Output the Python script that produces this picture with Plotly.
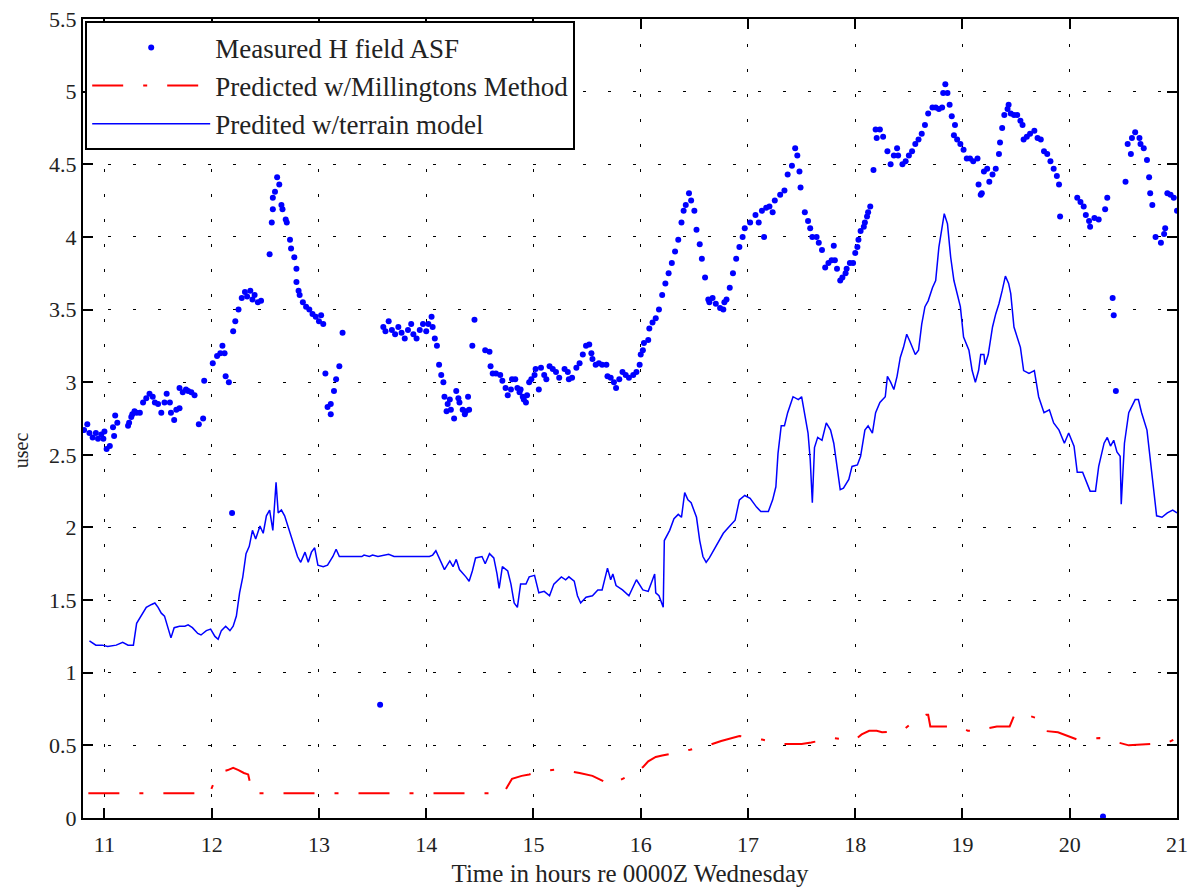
import plotly.graph_objects as go

# ---------------- data ----------------
meas_x = [10.81, 10.84, 10.86, 10.89, 10.92, 10.94, 10.97, 10.99, 11.0, 11.02, 11.05, 11.08, 11.09, 11.1, 11.12,
          11.22, 11.23, 11.25, 11.26, 11.28, 11.3, 11.33, 11.36, 11.39, 11.42, 11.45, 11.47, 11.5, 11.53, 11.56,
          11.58, 11.61, 11.62, 11.65, 11.67, 11.7, 11.7, 11.73, 11.76, 11.78, 11.81, 11.84, 11.88, 11.92, 11.93,
          12.01, 12.05, 12.08, 12.1, 12.12, 12.13, 12.16, 12.19, 12.2, 12.22, 12.25, 12.28, 12.31, 12.33, 12.36,
          12.38, 12.4, 12.43, 12.46, 12.54, 12.56, 12.57, 12.57, 12.59, 12.61, 12.63, 12.65, 12.66, 12.69, 12.7,
          12.73, 12.74, 12.77, 12.79, 12.79, 12.81, 12.82, 12.85, 12.88, 12.91, 12.94, 12.97, 13.0, 13.02, 13.04,
          13.06, 13.08, 13.11, 13.11, 13.14, 13.16, 13.19, 13.22, 13.57, 13.6, 13.62, 13.65, 13.68, 13.71, 13.74,
          13.77, 13.8, 13.83, 13.86, 13.88, 13.91, 13.94, 13.97, 14.0, 14.02, 14.05, 14.06, 14.08, 14.1, 14.12,
          14.14, 14.16, 14.17, 14.19, 14.2, 14.22, 14.23, 14.26, 14.28, 14.3, 14.31, 14.34, 14.36, 14.37, 14.39,
          14.4, 14.43, 14.45, 14.55, 14.59, 14.6, 14.62, 14.65, 14.69, 14.71, 14.74, 14.76, 14.79, 14.8, 14.83,
          14.85, 14.87, 14.88, 14.9, 14.91, 14.93, 14.94, 14.96, 14.98, 15.01, 15.02, 15.05, 15.07, 15.1, 15.12,
          15.15, 15.18, 15.21, 15.24, 15.29, 15.32, 15.33, 15.36, 15.4, 15.43, 15.46, 15.49, 15.52, 15.54, 15.55,
          15.58, 15.61, 15.64, 15.68, 15.69, 15.72, 15.75, 15.77, 15.8, 15.83, 15.86, 15.89, 15.93, 15.96, 15.99,
          16.0, 16.02, 16.03, 16.07, 16.08, 16.11, 16.14, 16.17, 16.2, 16.23, 16.26, 16.29, 16.32, 16.35, 16.38,
          16.4, 16.42, 16.45, 16.47, 16.5, 16.52, 16.55, 16.57, 16.6, 16.63, 16.64, 16.67, 16.7, 16.74, 16.77,
          16.78, 16.8, 16.83, 16.86, 16.89, 16.92, 16.95, 16.97, 17.02, 17.07, 17.1, 17.13, 17.15, 17.17, 17.2,
          17.23, 17.25, 17.3, 17.34, 17.37, 17.41, 17.44, 17.46, 17.48, 17.49, 17.53, 17.56, 17.58, 17.6, 17.64,
          17.66, 17.69, 17.72, 17.75, 17.78, 17.8, 17.81, 17.83, 17.86, 17.88, 17.91, 17.92, 17.95, 17.98, 18.0,
          18.02, 18.03, 18.05, 18.08, 18.09, 18.11, 18.12, 18.14, 18.17, 18.19, 18.2, 18.23, 18.26, 18.3, 18.33,
          18.36, 18.39, 18.4, 18.44, 18.47, 18.5, 18.53, 18.56, 18.59, 18.62, 18.65, 18.68, 18.72, 18.75, 18.78,
          18.81, 18.82, 18.84, 18.86, 18.88, 18.9, 18.92, 18.93, 18.95, 18.98, 19.01, 19.04, 19.07, 19.1, 19.14,
          19.15, 19.17, 19.18, 19.2, 19.23, 19.25, 19.28, 19.31, 19.34, 19.35, 19.37, 19.39, 19.42, 19.43, 19.45,
          19.48, 19.51, 19.54, 19.56, 19.57, 19.6, 19.63, 19.67, 19.7, 19.73, 19.76, 19.79, 19.82, 19.85, 19.88,
          19.9, 19.91, 20.07, 20.1, 20.13, 20.15, 20.18, 20.19, 20.23, 20.27, 20.31, 20.33, 20.35, 20.4, 20.41,
          20.43, 20.52, 20.54, 20.57, 20.58, 20.61, 20.65, 20.66, 20.69, 20.72, 20.74, 20.75, 20.77, 20.8, 20.85,
          20.88, 20.89, 20.91, 20.94, 20.97, 21.0]
meas_y = [2.67, 2.71, 2.65, 2.62, 2.65, 2.61, 2.64, 2.61, 2.66, 2.54, 2.56, 2.69, 2.63, 2.77, 2.72,
          2.70, 2.72, 2.76, 2.78, 2.80, 2.79, 2.79, 2.86, 2.89, 2.92, 2.90, 2.86, 2.85, 2.79, 2.86,
          2.92, 2.86, 2.79, 2.74, 2.81, 2.82, 2.96, 2.93, 2.95, 2.94, 2.93, 2.91, 2.71, 2.75, 3.01,
          3.13, 3.18, 3.20, 3.25, 3.20, 3.04, 3.00, 2.10, 3.35, 3.42, 3.50, 3.58, 3.62, 3.59, 3.63,
          3.57, 3.60, 3.55, 3.56, 3.88, 4.10, 4.19, 4.27, 4.31, 4.41, 4.36, 4.22, 4.19, 4.12, 4.10,
          3.98, 3.92, 3.86, 3.78, 3.69, 3.63, 3.60, 3.55, 3.52, 3.50, 3.47, 3.45, 3.42, 3.46, 3.40,
          3.06, 2.83, 2.85, 2.78, 2.94, 3.02, 3.11, 3.34, 0.78, 3.38, 3.35, 3.42, 3.36, 3.33, 3.38,
          3.34, 3.30, 3.36, 3.40, 3.33, 3.30, 3.36, 3.40, 3.35, 3.40, 3.45, 3.38, 3.30, 3.25, 3.12,
          3.05, 3.00, 2.90, 2.80, 2.85, 2.88, 2.81, 2.75, 2.94, 2.89, 2.86, 2.81, 2.78, 2.80, 2.90,
          2.81, 3.25, 3.43, 3.22, 3.21, 3.11, 3.06, 3.06, 3.05, 3.01, 2.96, 2.91, 2.95, 3.02, 3.02,
          2.96, 2.93, 2.95, 2.90, 2.88, 2.86, 2.91, 3.00, 3.02, 3.05, 3.09, 2.95, 3.10, 3.05, 3.02,
          3.11, 3.09, 3.07, 3.03, 3.09, 3.07, 3.02, 3.03, 3.10, 3.13, 3.19, 3.25, 3.26, 3.20, 3.16,
          3.12, 3.13, 3.12, 3.12, 3.04, 3.03, 3.00, 2.96, 3.02, 3.07, 3.05, 3.03, 3.05, 3.07, 3.12,
          3.19, 3.22, 3.27, 3.29, 3.37, 3.41, 3.44, 3.50, 3.60, 3.68, 3.75, 3.82, 3.90, 3.98, 4.10,
          4.18, 4.22, 4.30, 4.25, 4.18, 4.05, 3.95, 3.85, 3.72, 3.57, 3.55, 3.58, 3.54, 3.51, 3.50,
          3.55, 3.57, 3.65, 3.75, 3.85, 3.93, 4.00, 4.06, 4.10, 4.15, 4.10, 4.18, 4.00, 4.20, 4.21,
          4.17, 4.25, 4.29, 4.32, 4.43, 4.49, 4.61, 4.56, 4.45, 4.34, 4.17, 4.11, 4.06, 4.00, 4.00,
          3.96, 3.91, 3.79, 3.82, 3.84, 3.94, 3.84, 3.78, 3.70, 3.72, 3.75, 3.78, 3.82, 3.82, 3.89,
          3.93, 3.98, 4.04, 4.07, 4.10, 4.14, 4.17, 4.21, 4.46, 4.74, 4.68, 4.74, 4.69, 4.59, 4.50,
          4.56, 4.61, 4.56, 4.50, 4.52, 4.56, 4.59, 4.64, 4.67, 4.71, 4.77, 4.85, 4.89, 4.89, 4.88,
          4.89, 4.99, 5.05, 4.99, 4.91, 4.83, 4.70, 4.77, 4.67, 4.64, 4.60, 4.54, 4.54, 4.52, 4.54,
          4.36, 4.29, 4.30, 4.45, 4.47, 4.38, 4.43, 4.47, 4.57, 4.65, 4.75, 4.84, 4.88, 4.91, 4.85,
          4.84, 4.84, 4.80, 4.77, 4.67, 4.69, 4.71, 4.73, 4.68, 4.67, 4.59, 4.57, 4.52, 4.47, 4.42,
          4.36, 4.14, 4.27, 4.24, 4.21, 4.15, 4.11, 4.07, 4.13, 4.12, 0.01, 4.19, 4.27, 3.58, 3.46,
          2.94, 4.38, 4.64, 4.57, 4.68, 4.72, 4.68, 4.64, 4.61, 4.53, 4.41, 4.30, 4.22, 4.00, 3.96,
          4.02, 4.06, 4.30, 4.29, 4.27, 4.18]

mill_x = [10.85, 11.0, 11.5, 11.98, 12.03, 12.1, 12.15, 12.2, 12.25, 12.3, 12.34, 12.35, 12.36, 12.38,
          13.0, 14.0, 14.72, 14.76, 14.8, 14.89, 14.96, 15.05, 15.23, 15.43, 15.55, 15.66, 15.69, 15.75,
          15.86, 15.95, 16.02, 16.07, 16.14, 16.2, 16.27, 16.46, 16.63, 16.75, 16.92, 16.96, 17.13, 17.3,
          17.5, 17.59, 17.79, 17.99, 18.06, 18.13, 18.2, 18.25, 18.44, 18.55, 18.66, 18.68, 18.7, 18.76,
          18.97, 19.05, 19.17, 19.22, 19.32, 19.44, 19.49, 19.6, 19.68, 19.73, 19.76, 19.89, 20.07, 20.28,
          20.38, 20.45, 20.55, 20.76, 20.89, 21.0]
mill_y = [0.17, 0.17, 0.17, 0.17, 0.26, 0.32, 0.33, 0.345, 0.33, 0.31, 0.30, 0.27, 0.22, 0.17,
          0.17, 0.17, 0.17, 0.22, 0.27, 0.29, 0.30, 0.32, 0.335, 0.31, 0.29, 0.25, 0.23, 0.24,
          0.28, 0.32, 0.35, 0.39, 0.42, 0.43, 0.44, 0.47, 0.50, 0.53, 0.565, 0.56, 0.54, 0.51,
          0.51, 0.52, 0.55, 0.535, 0.575, 0.60, 0.60, 0.59, 0.60, 0.67, 0.71, 0.71, 0.63, 0.63,
          0.63, 0.60, 0.60, 0.615, 0.63, 0.63, 0.72, 0.71, 0.69, 0.67, 0.60, 0.59, 0.54, 0.55,
          0.54, 0.52, 0.50, 0.51, 0.51, 0.55]

terr_x = [10.86, 10.92, 10.98, 11.03, 11.11, 11.17, 11.22, 11.27, 11.3, 11.34, 11.39, 11.44, 11.47, 11.5,
          11.53, 11.56, 11.59, 11.62, 11.65, 11.7, 11.75, 11.78, 11.82, 11.87, 11.9, 11.95, 11.99, 12.03,
          12.06, 12.09, 12.13, 12.17, 12.2, 12.23, 12.26, 12.29, 12.32, 12.35, 12.38, 12.41, 12.45, 12.48,
          12.51, 12.54, 12.57, 12.6, 12.62, 12.65, 12.68, 12.71, 12.76, 12.8, 12.83, 12.87, 12.9, 12.93,
          12.96, 12.99, 13.04, 13.08, 13.13, 13.16, 13.19, 13.4, 13.42, 13.47, 13.5, 13.55, 13.65, 13.7,
          14.03, 14.06, 14.09, 14.14, 14.17, 14.22, 14.25, 14.28, 14.31, 14.37, 14.4, 14.43, 14.46, 14.52,
          14.55, 14.59, 14.63, 14.66, 14.68, 14.71, 14.76, 14.79, 14.82, 14.85, 14.88, 14.93, 14.96, 15.01,
          15.05, 15.1, 15.15, 15.19, 15.26, 15.3, 15.33, 15.38, 15.41, 15.44, 15.49, 15.55, 15.6, 15.64,
          15.69, 15.72, 15.74, 15.77, 15.83, 15.89, 15.96, 16.02, 16.07, 16.13, 16.14, 16.17, 16.21, 16.22,
          16.27, 16.31, 16.35, 16.38, 16.41, 16.44, 16.47, 16.52, 16.55, 16.58, 16.61, 16.64, 16.7, 16.77,
          16.83, 16.88, 16.92, 16.97, 17.02, 17.08, 17.12, 17.19, 17.23, 17.26, 17.28, 17.31, 17.34, 17.37,
          17.42, 17.47, 17.5, 17.53, 17.56, 17.58, 17.6, 17.62, 17.65, 17.69, 17.73, 17.77, 17.8, 17.83,
          17.86, 17.89, 17.94, 17.97, 18.02, 18.05, 18.09, 18.12, 18.16, 18.19, 18.23, 18.28, 18.3, 18.33,
          18.36, 18.39, 18.42, 18.45, 18.48, 18.51, 18.56, 18.59, 18.62, 18.65, 18.68, 18.72, 18.75, 18.78,
          18.81, 18.83, 18.86, 18.89, 18.92, 18.95, 18.98, 19.01, 19.06, 19.09, 19.12, 19.15, 19.17, 19.2,
          19.21, 19.24, 19.28, 19.31, 19.34, 19.37, 19.4, 19.43, 19.45, 19.48, 19.51, 19.54, 19.57, 19.62,
          19.67, 19.71, 19.76, 19.81, 19.85, 19.9, 19.95, 19.99, 20.04, 20.07, 20.12, 20.16, 20.19, 20.24,
          20.27, 20.32, 20.35, 20.38, 20.41, 20.44, 20.47, 20.48, 20.51, 20.55, 20.58, 20.61, 20.64, 20.67,
          20.72, 20.75, 20.78, 20.81, 20.86, 20.91, 20.96, 21.0]
terr_y = [1.22, 1.19, 1.19, 1.18, 1.19, 1.21, 1.19, 1.19, 1.34, 1.39, 1.45, 1.47, 1.48, 1.45,
          1.41, 1.39, 1.32, 1.24, 1.31, 1.32, 1.32, 1.33, 1.31, 1.27, 1.26, 1.29, 1.30, 1.25,
          1.23, 1.29, 1.32, 1.29, 1.32, 1.39, 1.55, 1.66, 1.82, 1.87, 1.98, 1.92, 2.01, 1.96,
          2.08, 2.12, 1.98, 2.31, 2.10, 2.12, 2.08, 2.01, 1.91, 1.80, 1.76, 1.83, 1.76, 1.83,
          1.86, 1.74, 1.73, 1.74, 1.80, 1.85, 1.80, 1.80, 1.81, 1.80, 1.81, 1.80, 1.815, 1.80,
          1.80, 1.81, 1.84, 1.76, 1.71, 1.77, 1.73, 1.78, 1.71, 1.66, 1.63, 1.70, 1.79, 1.80,
          1.75, 1.82, 1.79, 1.68, 1.58, 1.73, 1.70, 1.61, 1.48, 1.45, 1.61, 1.61, 1.66, 1.67,
          1.55, 1.56, 1.53, 1.61, 1.66, 1.64, 1.66, 1.63, 1.53, 1.48, 1.52, 1.53, 1.57, 1.57,
          1.72, 1.64, 1.68, 1.60, 1.57, 1.53, 1.64, 1.57, 1.56, 1.68, 1.55, 1.53, 1.45, 1.91,
          1.98, 2.06, 2.09, 2.07, 2.24, 2.19, 2.17, 2.07, 1.91, 1.80, 1.76, 1.79, 1.87, 1.96,
          2.01, 2.05, 2.19, 2.22, 2.20, 2.14, 2.11, 2.11, 2.19, 2.28, 2.51, 2.70, 2.70, 2.79,
          2.90, 2.88, 2.90, 2.78, 2.65, 2.47, 2.17, 2.55, 2.62, 2.60, 2.72, 2.67, 2.58, 2.42,
          2.26, 2.27, 2.33, 2.42, 2.43, 2.49, 2.67, 2.70, 2.65, 2.79, 2.86, 2.90, 3.04, 3.00,
          2.95, 3.04, 3.17, 3.24, 3.33, 3.28, 3.19, 3.22, 3.40, 3.52, 3.56, 3.65, 3.70, 3.93,
          4.09, 4.16, 4.09, 3.86, 3.70, 3.61, 3.52, 3.31, 3.22, 3.08, 3.00, 3.08, 3.19, 3.19,
          3.12, 3.19, 3.38, 3.47, 3.54, 3.63, 3.73, 3.68, 3.61, 3.38, 3.31, 3.24, 3.08, 3.06,
          3.08, 2.90, 2.79, 2.81, 2.72, 2.67, 2.58, 2.65, 2.56, 2.38, 2.38, 2.31, 2.25, 2.25,
          2.42, 2.58, 2.62, 2.56, 2.60, 2.52, 2.49, 2.16, 2.58, 2.79, 2.83, 2.88, 2.88, 2.79,
          2.67, 2.47, 2.24, 2.08, 2.07, 2.10, 2.12, 2.10]

x_tickvals = [11, 12, 13, 14, 15, 16, 17, 18, 19, 20, 21]
y_tickvals = [0, 0.5, 1, 1.5, 2, 2.5, 3, 3.5, 4, 4.5, 5, 5.5]
y_ticktext = ["0", "0.5", "1", "1.5", "2", "2.5", "3", "3.5", "4", "4.5", "5", "5.5"]

series_names = ["Measured H field ASF", "Predicted w/Millingtons Method", "Predited w/terrain model"]
x_title = "Time in hours re 0000Z Wednesday"
y_title = "usec"

# ---------------- figure ----------------
SERIF = "Liberation Serif"
BLUE = "#0000ff"
RED = "#ff0000"
TXT = "#222222"

fig = go.Figure()
fig.add_trace(go.Scatter(x=meas_x, y=meas_y, mode="markers", name=series_names[0],
                         marker=dict(color=BLUE, size=6, line=dict(width=0))))
fig.add_trace(go.Scatter(x=mill_x, y=mill_y, mode="lines", name=series_names[1],
                         line=dict(color=RED, width=2, dash="31px,20px,4px,20px")))
fig.add_trace(go.Scatter(x=terr_x, y=terr_y, mode="lines", name=series_names[2],
                         line=dict(color=BLUE, width=1.5)))

axis_common = dict(
    showline=True, linecolor="black", linewidth=2, mirror="ticks",
    ticks="inside", ticklen=10, tickwidth=1.5, tickcolor="black",
    showgrid=True, gridcolor="black", gridwidth=1, griddash="3px,22px",
    zeroline=False, automargin=False,
    tickfont=dict(family=SERIF, size=22, color=TXT),
)

fig.update_layout(
    width=1194, height=888,
    margin=dict(l=83, r=17, t=19, b=70, autoexpand=False),
    paper_bgcolor="white", plot_bgcolor="white",
    font=dict(family=SERIF, color=TXT),
    showlegend=True,
    legend=dict(x=0.002, y=0.997, xanchor="left", yanchor="top",
                bgcolor="white", bordercolor="black", borderwidth=2,
                font=dict(family=SERIF, size=27, color=TXT),
                itemwidth=118, tracegroupgap=0),
    xaxis=dict(range=[10.8, 21], tickvals=x_tickvals, ticklabelstandoff=6,
               title=dict(text=x_title, font=dict(family=SERIF, size=25, color=TXT), standoff=8),
               **axis_common),
    yaxis=dict(range=[0, 5.5], tickvals=y_tickvals, ticktext=y_ticktext,
               **axis_common),
    annotations=[dict(text=y_title, xref="paper", yref="paper", x=-0.056, y=0.46,
                      xanchor="center", yanchor="middle", textangle=-90, showarrow=False,
                      font=dict(family=SERIF, size=20, color=TXT))],
)

fig.write_html("out.html")
